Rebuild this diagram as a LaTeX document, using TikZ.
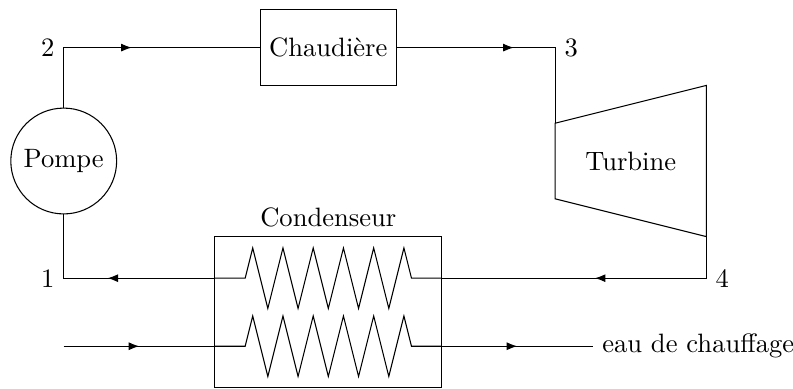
\documentclass[tikz,border=0pt]{standalone}
\usepackage{fontspec}
\usetikzlibrary{arrows.meta, decorations.markings}

\tikzset{
	midarrow/.style = {postaction = {decorate}, decoration = {markings, mark = at position 0.5 with {\arrow{Latex[length=4pt, width=3pt]}}}}
}

\begin{document}
\begin{tikzpicture}
		\useasboundingbox (-0.843, -3.003) rectangle (9.647, 2.130);
		
		\node[draw, circle, minimum size = 1.4 cm, inner sep = 0 pt] (pompe) at (0, 0) {Pompe};
		\node[draw, minimum width = 1.8 cm, minimum height = 1 cm] (chaudiere) at (3.5, 1.5) {Chaudière};
		\node[draw, minimum width = 3 cm, minimum height = 2 cm] (condenseur) at (3.5, -2) {};
		\node[anchor = south] (condenseurlabel) at (condenseur.north) {Condenseur};
		\node (turbine) at (7.5, 0) {Turbine};
		
		\coordinate (p1) at (0, -1.55);
		\coordinate (p2) at (0, 1.5);
		\coordinate (p3) at (6.5, 1.5);
		\coordinate (p4) at (8.5, -1.55);
		\coordinate (tin) at (6.5, 0.5);
		\coordinate (tout) at (8.5, -1);
		\coordinate (cin) at (5, -1.55);
		\coordinate (cout) at (2, -1.55);
		\coordinate (ein) at (0, -2.45);
		\coordinate (ea) at (2, -2.45);
		\coordinate (eb) at (5, -2.45);
		\coordinate (eout) at (7, -2.45);
		
		\node[anchor = east] (n1) at (p1) {1};
		\node[anchor = east] (n2) at (p2) {2};
		\node[anchor = west] (n3) at (p3) {3};
		\node[anchor = west] (n4) at (p4) {4};
		\node[anchor = west] (eau) at (eout) {eau de chauffage};
		
		\draw (tin) -- (8.5, 1) -- (tout) -- (6.5, -0.5) -- cycle;
		
		\draw[midarrow] (pompe) -- (p2) -- (chaudiere);
		\draw[midarrow] (chaudiere) -- (p3) -- (tin);
		\draw[midarrow] (tout) -- (p4) -- (cin);
		\draw[midarrow] (cout) -- (p1) -- (pompe);
		\draw[midarrow] (ein) -- (ea);
		\draw[midarrow] (eb) -- (eout);
		
		\foreach \y in {-1.55, -2.45}
		\draw (2, \y) -- (2.4, \y) -- (2.5, \y + 0.4) -- (2.7, \y - 0.4) -- (2.9, \y + 0.4) -- (3.1, \y - 0.4) -- (3.3, \y + 0.4) -- (3.5, \y - 0.4) -- (3.7, \y + 0.4) -- (3.9, \y - 0.4) -- (4.1, \y + 0.4) -- (4.3, \y - 0.4) -- (4.5, \y + 0.4) -- (4.6, \y) -- (5, \y);
	\end{tikzpicture}
\end{document}
